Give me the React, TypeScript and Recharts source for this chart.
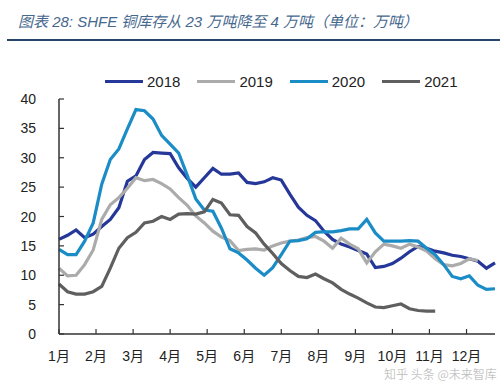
import { LineChart, Line, XAxis, YAxis } from 'recharts';

// weekly SHFE copper stocks, 10k tonnes
const weeks = Array.from({ length: 52 }, (_, i) => i);

const s2018 = [
  16.1, 16.8, 17.7, 16.4, 17.0, 18.3, 19.5, 21.5, 26.0, 26.9,
  29.7, 30.9, 30.8, 30.7, 28.3, 26.5, 25.0, 26.6, 28.2, 27.2,
  27.2, 27.4, 25.8, 25.6, 25.9, 26.6, 26.2, 23.8, 21.6, 20.2,
  19.3, 17.5, 16.1, 15.3, 14.8, 14.2, 13.6, 11.3, 11.5, 12.0,
  12.9, 14.0, 14.9, 14.6, 14.1, 13.8, 13.4, 13.2, 12.8, 12.4,
  11.2, 12.1,
];
const s2019 = [
  11.2, 9.9, 10.0, 11.8, 14.3, 19.5, 22.0, 23.2, 24.8, 26.6,
  26.1, 26.3, 25.6, 24.7, 23.2, 21.9, 20.1, 18.9, 17.5, 16.5,
  15.9, 14.2, 14.4, 14.5, 14.3, 15.0, 15.5, 15.8, 16.0, 16.4,
  16.6, 15.8, 14.6, 16.3, 15.3, 14.5, 12.1, 14.0, 15.3, 15.0,
  14.6, 15.3, 14.8, 14.1, 12.8, 11.8, 11.6, 12.0, 12.8, 12.5,
];
const s2020 = [
  14.4, 13.5, 13.5, 15.8, 18.9, 25.5, 29.7, 31.5, 34.9, 38.2,
  38.0, 36.6, 33.8, 32.3, 30.8, 27.0, 23.0, 21.1, 20.9, 18.0,
  14.5, 13.8, 12.6, 11.2, 10.0, 11.3, 13.5, 15.8, 15.9, 16.2,
  17.3, 17.4, 17.4, 17.6, 17.9, 17.9, 19.5, 17.2, 15.8, 15.8,
  15.8, 15.9, 15.8, 14.6, 13.5, 11.8, 9.8, 9.4, 9.9, 8.3,
  7.6, 7.7,
];
const s2021 = [
  8.5, 7.2, 6.8, 6.8, 7.2, 8.1, 11.2, 14.6, 16.4, 17.3,
  18.9, 19.2, 20.0, 19.5, 20.4, 20.5, 20.4, 20.8, 22.9, 22.3,
  20.3, 20.2, 18.3, 17.2, 15.3, 13.7, 12.0, 10.8, 9.8, 9.6,
  10.2, 9.4, 8.7, 7.6, 6.8, 6.1, 5.3, 4.6, 4.5, 4.8,
  5.1, 4.3, 4.0, 3.9, 3.9,
];

const monthTicks = [0, 4.33, 8.67, 13, 17.33, 21.67, 26, 30.33, 34.67, 39, 43.33, 47.67];
const monthLabels = ['1月', '2月', '3月', '4月', '5月', '6月', '7月', '8月', '9月', '10月', '11月', '12月'];
const yTicks = [0, 5, 10, 15, 20, 25, 30, 35, 40];

const series = [
  { key: 'y2018', name: '2018', color: '#26379a', values: s2018 },
  { key: 'y2019', name: '2019', color: '#ababab', values: s2019 },
  { key: 'y2020', name: '2020', color: '#1a8cc6', values: s2020 },
  { key: 'y2021', name: '2021', color: '#5f5f5f', values: s2021 },
];

const data = weeks.map((w, i) => {
  const row: Record<string, number | null> = { w };
  series.forEach((s) => {
    row[s.key] = s.values[i] ?? null;
  });
  return row;
});

const axisColor = '#333';
const numFont = '"Liberation Sans", Arial, "Noto Sans CJK SC", sans-serif';

const XTick = ({ x, y, payload }: any) => {
  const idx = monthTicks.indexOf(payload.value);
  return (
    <g>
      <line x1={x} x2={x} y1={y} y2={y - 5} stroke={axisColor} strokeWidth={1.2} />
      <text x={x} y={y + 27} textAnchor="middle" fontSize={14} fill="#222" fontFamily={numFont}>
        {monthLabels[idx]}
      </text>
    </g>
  );
};

const YTick = ({ x, y, payload }: any) => (
  <g>
    <line x1={x} x2={x + 5} y1={y} y2={y} stroke={axisColor} strokeWidth={1.2} />
    <text x={x - 23} y={y + 5} textAnchor="end" fontSize={14} fill="#222" fontFamily={numFont}>
      {payload.value}
    </text>
  </g>
);

export default function App() {
  return (
    <div style={{ position: 'absolute', left: 0, top: 0, width: 500, height: 385, background: '#fff', overflow: 'hidden' }}>
      <div
        style={{
          position: 'absolute',
          left: 18,
          top: 10,
          fontSize: 15,
          fontStyle: 'italic',
          color: '#46688e',
          fontFamily: '"Liberation Sans", "Noto Sans CJK SC", sans-serif',
          whiteSpace: 'nowrap',
        }}
      >
        图表 28: SHFE 铜库存从 23 万吨降至 4 万吨（单位：万吨）
      </div>
      <div style={{ position: 'absolute', left: 7, top: 39, width: 493, height: 2, background: '#24446e' }} />

      <div style={{ position: 'absolute', left: 105, top: 73, display: 'flex', fontFamily: numFont, fontSize: 15, color: '#222' }}>
        {series.map((s) => (
          <div key={s.key} style={{ display: 'flex', alignItems: 'center', marginRight: 17 }}>
            <div style={{ width: 38, height: 3, background: s.color, marginRight: 4 }} />
            <span>{s.name}</span>
          </div>
        ))}
      </div>

      <div style={{ position: 'absolute', left: 0, top: 0 }}>
        <LineChart width={500} height={385} data={data} margin={{ top: 99, right: 5, bottom: 0, left: 0 }}>
          <XAxis
            dataKey="w"
            type="number"
            domain={[0, 51]}
            ticks={monthTicks}
            interval={0}
            height={51}
            tickSize={0}
            tickMargin={0}
            tick={<XTick />}
            tickLine={false}
            axisLine={{ stroke: axisColor, strokeWidth: 1.5 }}
          />
          <YAxis
            domain={[0, 40]}
            ticks={yTicks}
            interval={0}
            width={59}
            tickSize={0}
            tickMargin={0}
            tick={<YTick />}
            tickLine={false}
            axisLine={{ stroke: axisColor, strokeWidth: 1.5 }}
          />
          {series.map((s) => (
            <Line
              key={s.key}
              type="linear"
              dataKey={s.key}
              stroke={s.color}
              strokeWidth={3.2}
              dot={false}
              activeDot={false}
              isAnimationActive={false}
            />
          ))}
        </LineChart>
      </div>

      <div
        style={{
          position: 'absolute',
          left: 384,
          top: 367,
          fontSize: 12,
          lineHeight: '14px',
          color: 'rgba(120,120,120,0.45)',
          fontFamily: '"Noto Sans CJK SC", sans-serif',
          whiteSpace: 'nowrap',
        }}
      >
        知乎 头条 @未来智库
      </div>
    </div>
  );
}
